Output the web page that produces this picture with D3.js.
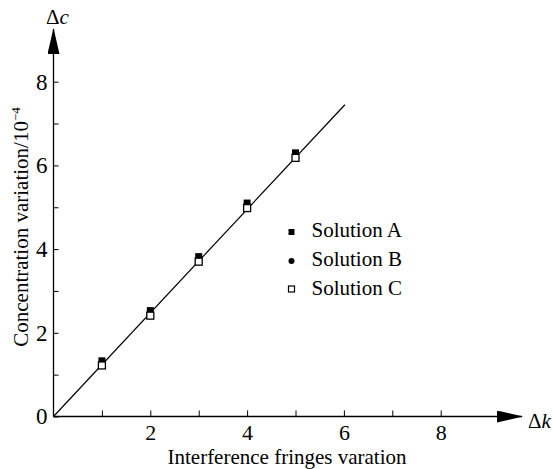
<!DOCTYPE html>
<html>
<head>
<meta charset="UTF-8">
<title>Concentration variation vs interference fringes</title>
<style>
  body { margin: 0; background: #fff; }
  svg text { font-family: "Liberation Serif", "Times New Roman", serif; fill: #000; }
</style>
</head>
<body>
<div id="vis"></div>
<script src="https://cdn.jsdelivr.net/npm/d3@7"></script>
<script>
// data
var fringes = [1, 2, 3, 4, 5];
var solutionA = [1.33, 2.53, 3.82, 5.10, 6.30];
var solutionB = [1.28, 2.48, 3.76, 5.05, 6.26];
var solutionC = [1.22, 2.41, 3.70, 4.98, 6.18];
var fitLine = [[0, 0], [6.02, 7.45]];
var xTicks = [1, 2, 3, 4, 5, 6, 7, 8];
var yTicks = [0, 1, 2, 3, 4, 5, 6, 7, 8];
var seriesNames = ["Solution A", "Solution B", "Solution C"];

var width = 553, height = 469;
var serif = "'Liberation Serif', 'Times New Roman', serif";

var svg = d3.select("#vis")
	.append("svg")
	.attr("width", width)
	.attr("height", height);

var x = d3.scaleLinear().domain([0, 8]).range([53.5, 440.7]);
var y = d3.scaleLinear().domain([0, 8]).range([416.5, 81.7]);

// arrow heads
var defs = svg.append("defs");
defs.append("marker")
	.attr("id", "arrow")
	.attr("viewBox", "0 0 26 12")
	.attr("refX", 25).attr("refY", 6)
	.attr("markerWidth", 26).attr("markerHeight", 12)
	.attr("markerUnits", "userSpaceOnUse")
	.attr("orient", "auto")
	.append("path")
	.attr("d", "M0,0 L26,6 L0,12 Z")
	.attr("fill", "#000");

// x axis (ticks pointing up)
var xAxis = d3.axisBottom(x)
	.tickValues(xTicks)
	.tickSizeInner(-6)
	.tickSizeOuter(0)
	.tickPadding(8)
	.tickFormat(function(d) { return d % 2 == 0 ? d : ""; });
var gx = svg.append("g")
	.attr("transform", "translate(0," + y(0) + ")")
	.call(xAxis);
gx.select(".domain").remove();
gx.selectAll("line").attr("stroke", "#000");
gx.selectAll("text")
	.style("font-family", serif)
	.style("font-size", "22px");

// y axis (ticks pointing right)
var yAxis = d3.axisLeft(y)
	.tickValues(yTicks)
	.tickSizeInner(-5)
	.tickSizeOuter(0)
	.tickPadding(6)
	.tickFormat(function(d) { return d % 2 == 0 ? d : ""; });
var gy = svg.append("g")
	.attr("transform", "translate(" + x(0) + ",0)")
	.call(yAxis);
gy.select(".domain").remove();
gy.selectAll("line").attr("stroke", "#000");
gy.selectAll("text")
	.style("font-family", serif)
	.style("font-size", "23px");

// axis lines with arrows
svg.append("line")
	.attr("x1", x(0)).attr("y1", y(0))
	.attr("x2", 522).attr("y2", y(0))
	.attr("stroke", "#000").attr("stroke-width", 1.3)
	.attr("marker-end", "url(#arrow)");
svg.append("line")
	.attr("x1", x(0)).attr("y1", y(0))
	.attr("x2", x(0)).attr("y2", 29)
	.attr("stroke", "#000").attr("stroke-width", 1.3)
	.attr("marker-end", "url(#arrow)");

// axis end labels
svg.append("text")
	.attr("x", 46).attr("y", 24)
	.attr("font-size", 21)
	.html('Δ<tspan font-style="italic">c</tspan>');
svg.append("text")
	.attr("x", 528).attr("y", 428)
	.attr("font-size", 21)
	.html('Δ<tspan font-style="italic">k</tspan>');

// axis titles
svg.append("text")
	.attr("x", 287).attr("y", 464)
	.attr("text-anchor", "middle")
	.attr("font-size", 21)
	.text("Interference fringes varation");

var yt = svg.append("text")
	.attr("transform", "translate(28,227) rotate(-90)")
	.attr("text-anchor", "middle")
	.attr("font-size", 21);
yt.append("tspan").text("Concentration variation/10");
yt.append("tspan").attr("dy", -8).attr("font-size", 13).text("−4");

// fitted line
svg.append("path")
	.datum(fitLine)
	.attr("d", d3.line().x(function(d) { return x(d[0]); }).y(function(d) { return y(d[1]); }))
	.attr("fill", "none")
	.attr("stroke", "#000")
	.attr("stroke-width", 1.2);

// data points
var sq = 7;
svg.selectAll("rect.a")
	.data(fringes)
	.enter().append("rect")
	.attr("x", function(d) { return x(d) - sq / 2; })
	.attr("y", function(d, i) { return y(solutionA[i]) - sq / 2; })
	.attr("width", sq).attr("height", sq)
	.attr("fill", "#000");
svg.selectAll("circle.b")
	.data(fringes)
	.enter().append("circle")
	.attr("cx", function(d) { return x(d); })
	.attr("cy", function(d, i) { return y(solutionB[i]); })
	.attr("r", 3.3)
	.attr("fill", "#000");
svg.selectAll("rect.c")
	.data(fringes)
	.enter().append("rect")
	.attr("x", function(d) { return x(d) - sq / 2; })
	.attr("y", function(d, i) { return y(solutionC[i]) - sq / 2; })
	.attr("width", sq).attr("height", sq)
	.attr("fill", "#fff")
	.attr("stroke", "#000")
	.attr("stroke-width", 1.3);

// legend
var legend = svg.append("g").attr("transform", "translate(291.5,237)");
seriesNames.forEach(function(name, i) {
	var g = legend.append("g").attr("transform", "translate(0," + (i * 29) + ")");
	if (i == 0) {
		g.append("rect").attr("x", -3).attr("y", -8).attr("width", 6).attr("height", 6).attr("fill", "#000");
	} else if (i == 1) {
		g.append("circle").attr("cx", 0).attr("cy", -5).attr("r", 3).attr("fill", "#000");
	} else {
		g.append("rect").attr("x", -3).attr("y", -9).attr("width", 6).attr("height", 6)
			.attr("fill", "#fff").attr("stroke", "#000").attr("stroke-width", 1.2);
	}
	g.append("text").attr("x", 20).attr("y", 0).attr("font-size", 21).text(name);
});
</script>
</body>
</html>
